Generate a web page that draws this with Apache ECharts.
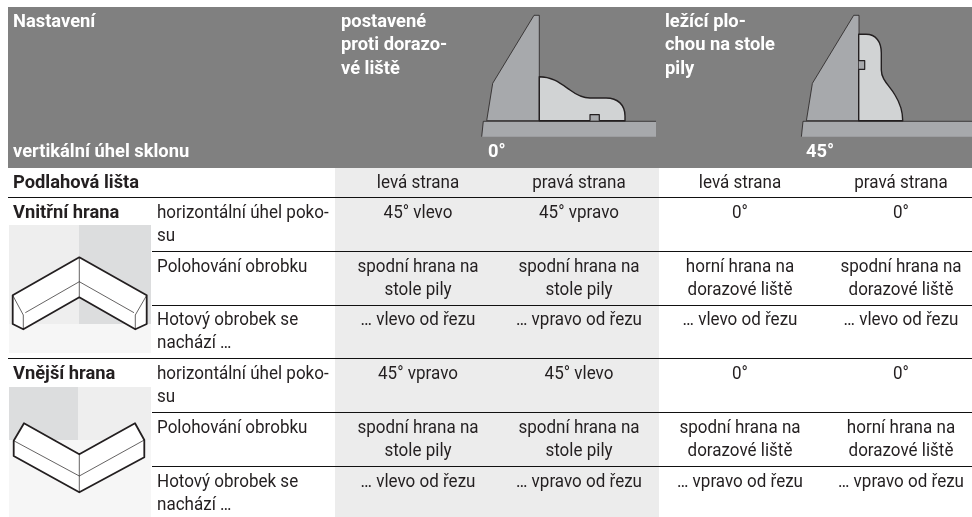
<!DOCTYPE html>
<html>
<head>
<meta charset="utf-8">
<script src="https://cdn.jsdelivr.net/npm/echarts@6/dist/echarts.min.js"></script>
<style>
  html, body { margin: 0; padding: 0; background: #fff; }
  #chart { width: 972px; height: 517px; }
</style>
</head>
<body>
<div id="chart"></div>
<script>
// table texts
const headerTitle = 'Nastavení';
const headerBevel = 'vertikální úhel sklonu';
const orientations = [['postavené', 'proti dorazo-', 'vé liště'], ['ležící plo-', 'chou na stole', 'pily']];
const bevelAngles = ['0°', '45°'];
const skirting = 'Podlahová lišta';
const sides = ['levá strana', 'pravá strana', 'levá strana', 'pravá strana'];
const groups = ['Vnitřní hrana', 'Vnější hrana'];
const rowLabels = [['horizontální úhel poko-', 'su'], ['Polohování obrobku'], ['Hotový obrobek se', 'nachází …']];
const innerValues = [
  [['45° vlevo'], ['45° vpravo'], ['0°'], ['0°']],
  [['spodní hrana na', 'stole pily'], ['spodní hrana na', 'stole pily'], ['horní hrana na', 'dorazové liště'], ['spodní hrana na', 'dorazové liště']],
  [['… vlevo od řezu'], ['… vpravo od řezu'], ['… vlevo od řezu'], ['… vlevo od řezu']]
];
const outerValues = [
  [['45° vpravo'], ['45° vlevo'], ['0°'], ['0°']],
  [['spodní hrana na', 'stole pily'], ['spodní hrana na', 'stole pily'], ['spodní hrana na', 'dorazové liště'], ['horní hrana na', 'dorazové liště']],
  [['… vlevo od řezu'], ['… vpravo od řezu'], ['… vpravo od řezu'], ['… vpravo od řezu']]
];

// layout, in the page's own pixel scale
const W = 972, H = 517;
const colCenters = [418, 579, 740, 901];
const groupRowY = [[213, 267, 320], [374, 428, 482]];
const LINE = 23.7;
const FONT = 'Roboto, sans-serif';
const SIZE = 18.5, SQUEEZE = 0.92, SQUEEZE_BOLD = 0.99;

const DARK = '#231f20', FENCE = '#a7a9ac', PROFILE = '#d1d3d4';

const rects = [
  [8, 7, 972, 168, '#808080'],
  [335, 168, 659, 517, '#ececec'],
  [9, 225, 79, 324, '#eeeeee'],
  [79, 225, 151, 324, '#dcddde'],
  [9, 324, 151, 353, '#f6f6f6'],
  [9, 387, 78, 440, '#dcddde'],
  [78, 387, 151, 440, '#eeeeee'],
  [9, 440, 151, 517, '#f6f6f6']
];

const rules = [
  [8, 197.5], [152, 251.5], [152, 305.5], [8, 358.5], [152, 412.5], [152, 466.5]
];

function wedge(dx, right) {
  // fence and saw table of the header pictures
  return [
    { d: [['M', 534 + dx, 15.3], ['L', 539.3 + dx, 15.3], ['L', 539.3 + dx, 120.7], ['L', 486.7 + dx, 120.7], ['L', 492.7 + dx, 83.3], ['Z']], fill: FENCE, stroke: DARK, lw: 0.8 },
    { d: [['M', 483.3 + dx, 121.3], ['L', right, 121.3], ['L', right, 136.7], ['L', 481.7 + dx, 136.7], ['Z']], fill: FENCE },
    { d: [['M', 481.7 + dx, 136.7], ['L', 483.3 + dx, 121.3], ['L', right, 121.3]], stroke: DARK, lw: 0.8 }
  ];
}

const shapes = [
  ...wedge(0, 656),
  { d: [['M', 539.3, 120.7], ['L', 539.3, 76.7], ['C', 552, 76.7, 560, 83, 570, 90], ['C', 578, 96, 583, 98, 590, 98], ['L', 606, 98], ['C', 618, 98, 625, 105, 625, 116], ['L', 625, 120.7], ['Z']], fill: PROFILE, stroke: DARK, lw: 1.4 },
  { d: [['M', 590, 120.7], ['L', 590, 114.7], ['L', 599.3, 114.7], ['L', 599.3, 120.7]], fill: FENCE, stroke: DARK, lw: 1.2 },
  ...wedge(319.7, 972),
  { d: [['M', 858.7, 120.7], ['L', 858.7, 34.3], ['L', 866, 34.3], ['C', 876, 34.3, 881.3, 42, 881.3, 53], ['L', 881.3, 70], ['C', 881.3, 80, 890, 86, 895, 95], ['C', 900, 103, 902.7, 110, 902.7, 120.7], ['Z']], fill: PROFILE, stroke: DARK, lw: 1.4 },
  { d: [['M', 858.7, 60.7], ['L', 864.7, 60.7], ['L', 864.7, 69.3], ['L', 858.7, 69.3]], fill: FENCE, stroke: DARK, lw: 1.2 },
  // inner corner
  { d: [['M', 79.3, 257.3], ['L', 146.7, 295.3], ['L', 146.7, 324], ['L', 135.3, 329.3], ['L', 79.3, 297.3], ['L', 23.3, 329.3], ['L', 12.7, 324], ['L', 12.7, 295.3], ['Z']], fill: '#fff', stroke: DARK, lw: 1.8 },
  { d: [['M', 79.3, 257.3], ['L', 79.3, 297.3], ['M', 25.3, 312.7], ['L', 79.3, 281.7], ['L', 134, 312.7], ['M', 12.7, 295.3], ['L', 23.3, 315], ['L', 23.3, 329.3], ['M', 146.7, 295.3], ['L', 135.3, 315], ['L', 135.3, 329.3]], stroke: DARK, lw: 0.7 },
  // outer corner
  { d: [['M', 79.3, 454.3], ['L', 135, 423.3], ['L', 144.3, 440], ['L', 144.3, 457.3], ['L', 79.3, 492.3], ['L', 13.7, 456], ['L', 13.7, 440.7], ['L', 24, 423.3], ['Z']], fill: '#fff', stroke: DARK, lw: 1.8 },
  { d: [['M', 79.3, 454.3], ['L', 79.3, 492.3], ['M', 13.7, 440.7], ['L', 79.3, 476], ['L', 144.3, 440]], stroke: DARK, lw: 0.7 }
];

// every text of the table as one positioned item
const labels = [];
function addLines(lines, x, y, align, bold, color) {
  lines.forEach((t, i) => labels.push({ t, x, y: y + i * LINE, align, bold, color }));
}
addLines([headerTitle], 13, 22, 'left', true, '#fff');
addLines([headerBevel], 13, 152, 'left', true, '#fff');
addLines(orientations[0], 341, 22, 'left', true, '#fff');
addLines(orientations[1], 665, 22, 'left', true, '#fff');
addLines([bevelAngles[0]], 488, 152, 'left', true, '#fff');
addLines([bevelAngles[1]], 806, 152, 'left', true, '#fff');
addLines([skirting], 13, 183, 'left', true, DARK);
sides.forEach((s, i) => addLines([s], colCenters[i], 183, 'center', false, DARK));
[innerValues, outerValues].forEach((values, g) => {
  addLines([groups[g]], 13, groupRowY[g][0], 'left', true, DARK);
  rowLabels.forEach((lines, r) => {
    addLines(lines, 157, groupRowY[g][r], 'left', false, DARK);
    values[r].forEach((cell, c) => addLines(cell, colCenters[c], groupRowY[g][r], 'center', false, DARK));
  });
});

const chart = echarts.init(document.getElementById('chart'), null, { renderer: 'canvas' });

function pathOf(api, d) {
  return d.map(seg => {
    let out = seg[0];
    for (let i = 1; i < seg.length; i += 2) {
      const p = api.coord([seg[i], seg[i + 1]]);
      out += ' ' + p[0] + ' ' + p[1];
    }
    return out;
  }).join(' ');
}

chart.setOption({
  animation: false,
  backgroundColor: '#fff',
  grid: { left: 0, right: 0, top: 0, bottom: 0 },
  xAxis: { type: 'value', min: 0, max: W, show: false },
  yAxis: { type: 'value', min: 0, max: H, inverse: true, show: false },
  series: [
    {
      // cell and header shading
      type: 'custom',
      silent: true,
      z: 1,
      clip: false,
      data: rects.map(r => r.slice(0, 4)),
      renderItem(params, api) {
        const a = api.coord([api.value(0), api.value(1)]);
        const b = api.coord([api.value(2), api.value(3)]);
        return {
          type: 'rect',
          shape: { x: a[0], y: a[1], width: b[0] - a[0], height: b[1] - a[1] },
          style: { fill: rects[params.dataIndex][4] }
        };
      }
    },
    {
      // row rules
      type: 'custom',
      silent: true,
      z: 2,
      data: rules,
      renderItem(params, api) {
        const a = api.coord([api.value(0), api.value(1)]);
        const b = api.coord([W, api.value(1)]);
        return {
          type: 'line',
          shape: { x1: a[0], y1: a[1], x2: b[0], y2: b[1] },
          style: { stroke: '#111', lineWidth: 1 }
        };
      }
    },
    {
      // saw fence and skirting board pictures
      type: 'custom',
      silent: true,
      z: 3,
      data: shapes.map((s, i) => [i]),
      renderItem(params, api) {
        const s = shapes[params.dataIndex];
        return {
          type: 'path',
          shape: { pathData: pathOf(api, s.d) },
          style: { fill: s.fill || 'none', stroke: s.stroke || 'none', lineWidth: s.lw || 0, lineJoin: 'round' }
        };
      }
    },
    {
      // texts
      type: 'custom',
      silent: true,
      z: 4,
      data: labels.map(l => [l.x, l.y]),
      renderItem(params, api) {
        const l = labels[params.dataIndex];
        const p = api.coord([api.value(0), api.value(1)]);
        return {
          type: 'text',
          x: p[0],
          y: p[1],
          scaleX: l.bold ? SQUEEZE_BOLD : SQUEEZE,
          style: {
            text: l.t,
            x: 0,
            y: 0,
            align: l.align,
            verticalAlign: 'middle',
            fill: l.color,
            font: (l.bold ? 'bold ' : '') + SIZE + 'px ' + FONT
          }
        };
      }
    }
  ]
});
</script>
</body>
</html>
